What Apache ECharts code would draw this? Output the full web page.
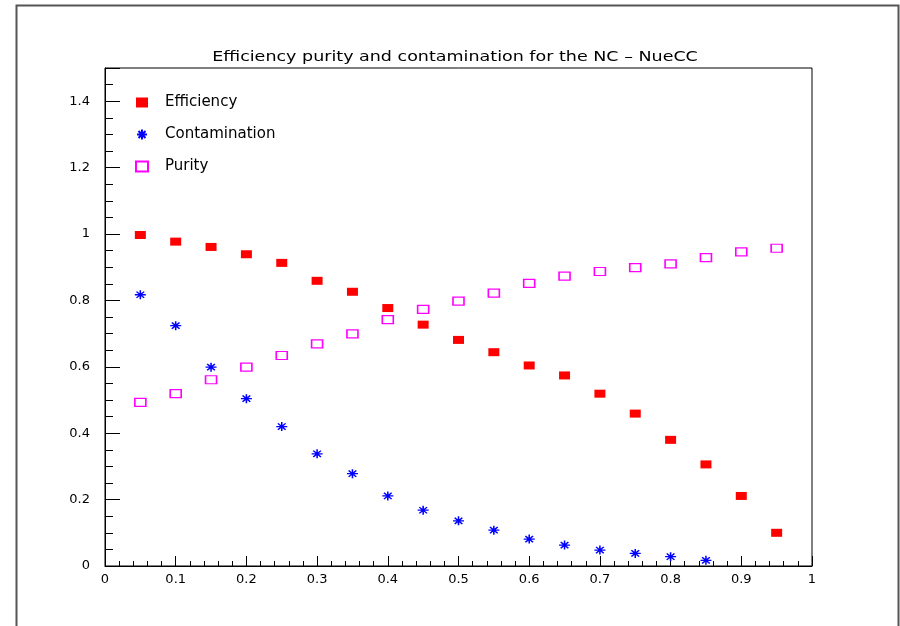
<!DOCTYPE html>
<html>
<head>
<meta charset="utf-8">
<script src="https://cdn.jsdelivr.net/npm/echarts@6/dist/echarts.min.js"></script>
<style>
  html, body { margin: 0; padding: 0; background: #fff; }
  #chart { width: 900px; height: 626px; }
</style>
</head>
<body>
<div id="chart"></div>
<script>
// Cut values on the x axis
const cuts = [0.05, 0.10, 0.15, 0.20, 0.25, 0.30, 0.35, 0.40, 0.45, 0.50,
              0.55, 0.60, 0.65, 0.70, 0.75, 0.80, 0.85, 0.90, 0.95];

const efficiency = [0.997, 0.977, 0.961, 0.939, 0.913, 0.859, 0.826, 0.777, 0.727, 0.681,
                    0.644, 0.604, 0.574, 0.519, 0.459, 0.380, 0.306, 0.211, 0.100];

// No contamination points are drawn for the last two cuts
const contamination = [0.817, 0.724, 0.599, 0.504, 0.420, 0.338, 0.278, 0.211, 0.168, 0.136,
                       0.108, 0.081, 0.063, 0.048, 0.038, 0.028, 0.017];

const purity = [0.493, 0.519, 0.561, 0.599, 0.634, 0.669, 0.699, 0.742, 0.773, 0.798,
                0.822, 0.851, 0.873, 0.887, 0.899, 0.910, 0.929, 0.946, 0.957];

const titleText = 'Efficiency purity and contamination for the NC \u2013 NueCC';
const seriesNames = ['Efficiency', 'Contamination', 'Purity'];

const FONT = 'DejaVu Sans';
const star = 'path://M0,5L10,5M5,0L5,10M1.5,1.5L8.5,8.5M8.5,1.5L1.5,8.5';

const pairs = (ys) => ys.map((y, i) => [cuts[i], y]);
const tickFmt = (v) => String(Math.round(v * 10) / 10);

const chart = echarts.init(document.getElementById('chart'), null, { renderer: 'canvas' });

chart.setOption({
  animation: false,
  backgroundColor: '#ffffff',
  grid: {
    left: 105, top: 68, width: 707, height: 498,
    show: true, borderColor: '#000', borderWidth: 1, backgroundColor: 'transparent'
  },
  legend: {
    orient: 'vertical',
    left: 130, top: 90,
    itemGap: 17,
    itemWidth: 12, itemHeight: 10,
    textStyle: { fontFamily: FONT, fontSize: 15, color: '#000', padding: [0, 0, 0, 12] },
    data: [
      { name: seriesNames[0], icon: 'rect' },
      { name: seriesNames[1], icon: star },
      { name: seriesNames[2], icon: 'rect' }
    ]
  },
  xAxis: {
    type: 'value', min: 0, max: 1, interval: 0.1,
    axisLine: { show: true, onZero: false, lineStyle: { color: '#000', width: 1 } },
    axisTick: { show: true, inside: true, length: 10, lineStyle: { color: '#000' } },
    minorTick: { show: true, splitNumber: 5, length: 5, lineStyle: { color: '#000' } },
    splitLine: { show: false },
    axisLabel: { fontFamily: FONT, fontSize: 13, color: '#000', margin: 7, formatter: tickFmt }
  },
  yAxis: {
    type: 'value', min: 0, max: 1.5, interval: 0.2,
    axisLine: { show: true, onZero: false, lineStyle: { color: '#000', width: 1 } },
    axisTick: { show: true, inside: true, length: 15, lineStyle: { color: '#000' } },
    minorTick: { show: true, splitNumber: 4, length: 8, lineStyle: { color: '#000' } },
    splitLine: { show: false },
    axisLabel: { fontFamily: FONT, fontSize: 13, color: '#000', margin: 15,
                 showMaxLabel: false, formatter: tickFmt }
  },
  series: [
    {
      name: seriesNames[0], type: 'scatter', data: pairs(efficiency),
      symbol: 'rect', symbolSize: [11, 8],
      itemStyle: { color: '#ff0000', opacity: 1 }
    },
    {
      name: seriesNames[1], type: 'scatter', data: pairs(contamination),
      symbol: star, symbolSize: [11, 9],
      itemStyle: { color: 'rgba(0,0,0,0)', borderColor: '#0000ff', borderWidth: 1.4, opacity: 1 }
    },
    {
      name: seriesNames[2], type: 'scatter', data: pairs(purity),
      symbol: 'rect', symbolSize: [11, 8],
      itemStyle: { color: '#ffffff', borderColor: '#ff00ff', borderWidth: 1.4, opacity: 1 }
    }
  ],
  graphic: [
    // canvas border
    { type: 'polyline', silent: true,
      shape: { points: [[16.5, 700], [16.5, 5.5], [898.5, 5.5], [898.5, 700]] },
      style: { stroke: '#555', lineWidth: 2, fill: null } },
    // plot title, stretched horizontally
    { type: 'text', silent: true, x: 455, y: 57, scaleX: 1.25,
      style: { text: titleText, fontFamily: FONT, fontSize: 14, fill: '#000',
               textAlign: 'center', textVerticalAlign: 'middle' } }
  ]
});
</script>
</body>
</html>
